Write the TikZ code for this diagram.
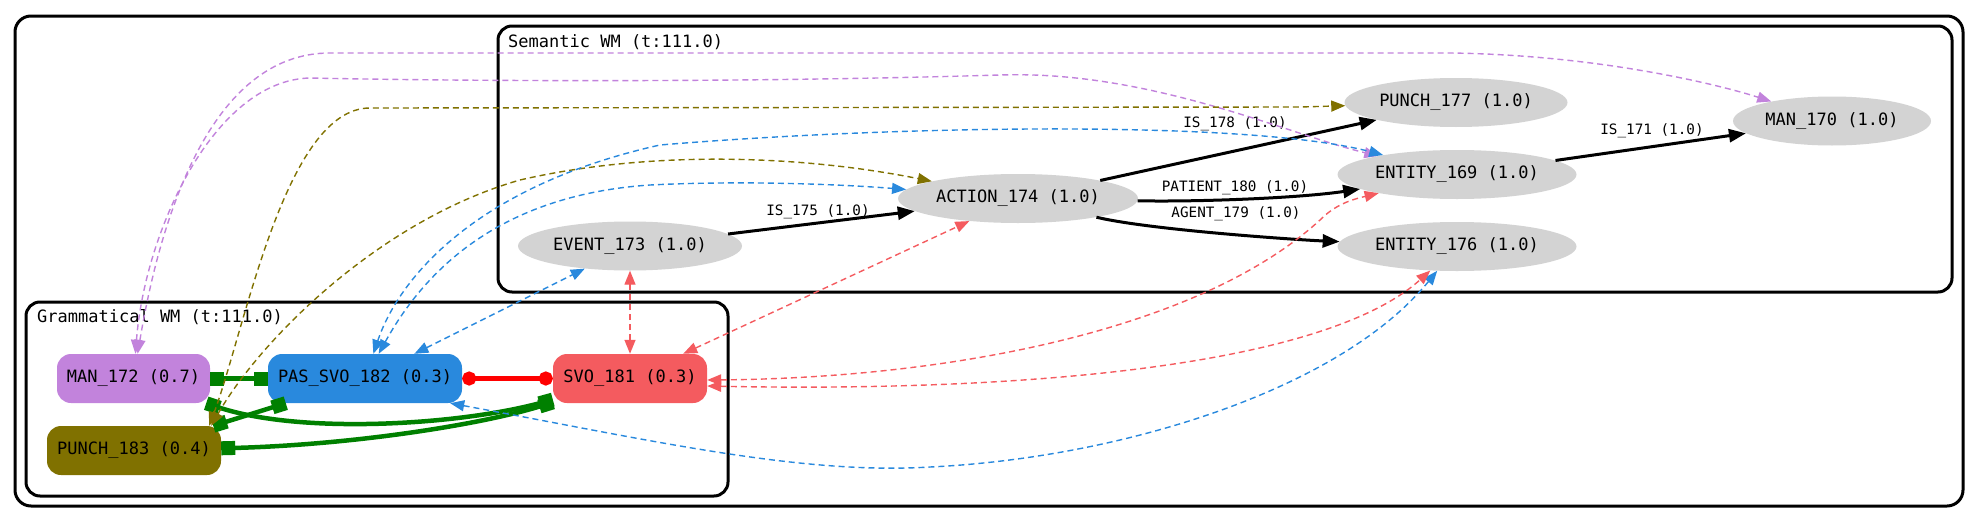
\documentclass[tikz,border=0pt]{standalone}
\usepackage{fontspec}
\usetikzlibrary{shapes.geometric,arrows.meta}
\newfontfamily\dmono{DejaVu Sans Mono}
\definecolor{cman}{RGB}{194,131,220}
\definecolor{cpas}{RGB}{41,137,221}
\definecolor{csvo}{RGB}{244,91,95}
\definecolor{cpunch}{RGB}{128,113,0}
\definecolor{lgray}{RGB}{211,211,211}
\definecolor{ggreen}{RGB}{0,128,0}
\begin{document}
\begin{tikzpicture}[x=1pt,y=-1pt,
  nfont/.style={font=\dmono\fontsize{17}{20}\selectfont},
  efont/.style={font=\dmono\fontsize{14.3}{17}\selectfont},
  cluster/.style={draw=black, line width=3pt, rounded corners=16pt},
  ell/.style={ellipse, fill=lgray, inner sep=0pt, minimum height=49pt, nfont},
  gnode/.style={rectangle, rounded corners=14pt, inner sep=0pt, minimum height=49pt, nfont},
  elab/.style={efont, inner sep=0pt},
  clab/.style={nfont, inner sep=0pt, anchor=west},
  blk/.style={color=black, line width=3pt, -{Triangle[length=17pt,width=13pt]}},
  gline/.style={color=ggreen, line width=4.5pt, {Square[length=14pt,width=14pt]}-{Square[length=14pt,width=14pt]}},
  rline/.style={color=red, line width=4.5pt, {Circle[length=14pt,width=14pt]}-{Circle[length=14pt,width=14pt]}},
  dsh/.style={line width=1.4pt, dash pattern=on 6pt off 4pt, {Triangle[length=14pt,width=11pt]}-{Triangle[length=14pt,width=11pt]}}
]
\useasboundingbox (0,0) rectangle (1978,522);
% clusters
\draw[cluster] (15,16) rectangle (1963,506);
\draw[cluster, rounded corners=14pt] (498,26) rectangle (1952,292);
\draw[cluster, rounded corners=14pt] (26,302) rectangle (728,496);
\node[clab] (lsem) at (508,42) {Semantic WM (t:111.0)};
\node[clab] (lgram) at (37,317) {Grammatical WM (t:111.0)};
% semantic nodes
\node[ell, minimum width=224pt] (e173) at (630,246) {EVENT\_173 (1.0)};
\node[ell, minimum width=240pt] (a174) at (1018,198.5) {ACTION\_174 (1.0)};
\node[ell, minimum width=223pt] (p177) at (1456,102.5) {PUNCH\_177 (1.0)};
\node[ell, minimum width=239pt] (e169) at (1457,174.5) {ENTITY\_169 (1.0)};
\node[ell, minimum width=239pt] (e176) at (1457,246.5) {ENTITY\_176 (1.0)};
\node[ell, minimum width=198pt] (m170) at (1832,121) {MAN\_170 (1.0)};
% grammatical nodes
\node[gnode, fill=cman, minimum width=153pt] (m172) at (133.5,378.5) {MAN\_172 (0.7)};
\node[gnode, fill=cpas, minimum width=194pt] (pas182) at (365,378.5) {PAS\_SVO\_182 (0.3)};
\node[gnode, fill=csvo, minimum width=154pt] (s181) at (630,378.5) {SVO\_181 (0.3)};
\node[gnode, fill=cpunch, minimum width=174pt] (p183) at (134,450.5) {PUNCH\_183 (0.4)};
% semantic edges
\draw[blk] (e173) -- (a174);
\draw[blk] (a174) -- (p177);
\draw[blk] (a174) .. controls (1200,202) and (1300,198) .. (e169);
\draw[blk] (a174) .. controls (1150,230) and (1300,240) .. (e176);
\draw[blk] (e169) -- (m170);
\node[elab] (l175) at (818,212) {IS\_175 (1.0)};
\node[elab] (l178) at (1235,124) {IS\_178 (1.0)};
\node[elab] (l180) at (1235,188) {PATIENT\_180 (1.0)};
\node[elab] (l179) at (1236,214) {AGENT\_179 (1.0)};
\node[elab] (l171) at (1652,131) {IS\_171 (1.0)};
% grammatical edges
\draw[gline] (m172) -- (pas182);
\draw[gline] (m172) .. controls (300,435) and (460,425) .. (s181);
\draw[gline] (p183) -- (pas182);
\draw[gline] (p183) .. controls (350,445) and (480,425) .. (s181);
\draw[rline] (pas182) -- (s181);
% cross edges
\draw[dsh, color=cman] (m172) .. controls (160,220) and (210,53) .. (330,53) -- (1450,53) .. controls (1600,55) and (1720,85) .. (m170);
\draw[dsh, color=cman] (m172) .. controls (145,230) and (215,80) .. (310,78) .. controls (400,80) and (700,84) .. (1000,75) .. controls (1150,70) and (1290,135) .. (e169);
\draw[dsh, color=cpunch] ([xshift=-12pt]p183.north east) .. controls (245,330) and (285,108) .. (370,108) -- (1300,107) -- (p177);
\draw[dsh, color=cpunch] ([xshift=-10pt]p183.north east) .. controls (260,340) and (380,220) .. (520,180) .. controls (650,150) and (800,155) .. (a174);
\draw[dsh, color=cpas] (pas182) .. controls (400,275) and (480,185) .. (660,145) .. controls (900,125) and (1250,120) .. (e169);
\draw[dsh, color=cpas] (pas182) .. controls (425,270) and (500,195) .. (650,185) .. controls (750,180) and (850,185) .. (a174);
\draw[dsh, color=cpas] (pas182) -- (e173);
\draw[dsh, color=cpas] ([xshift=-12pt]pas182.south east) .. controls (650,440) and (800,475) .. (930,467) .. controls (1120,458) and (1340,390) .. (e176);
\draw[dsh, color=csvo] (s181) -- (e173);
\draw[dsh, color=csvo] (s181) -- (a174);
\draw[dsh, color=csvo] ([yshift=-1.5pt]s181.east) .. controls (950,378) and (1200,330) .. (1320,220) .. controls (1335,205) and (1350,200) .. (e169);
\draw[dsh, color=csvo] ([yshift=-7.5pt]s181.east) .. controls (1000,392) and (1320,370) .. (e176);
\end{tikzpicture}
\end{document}
